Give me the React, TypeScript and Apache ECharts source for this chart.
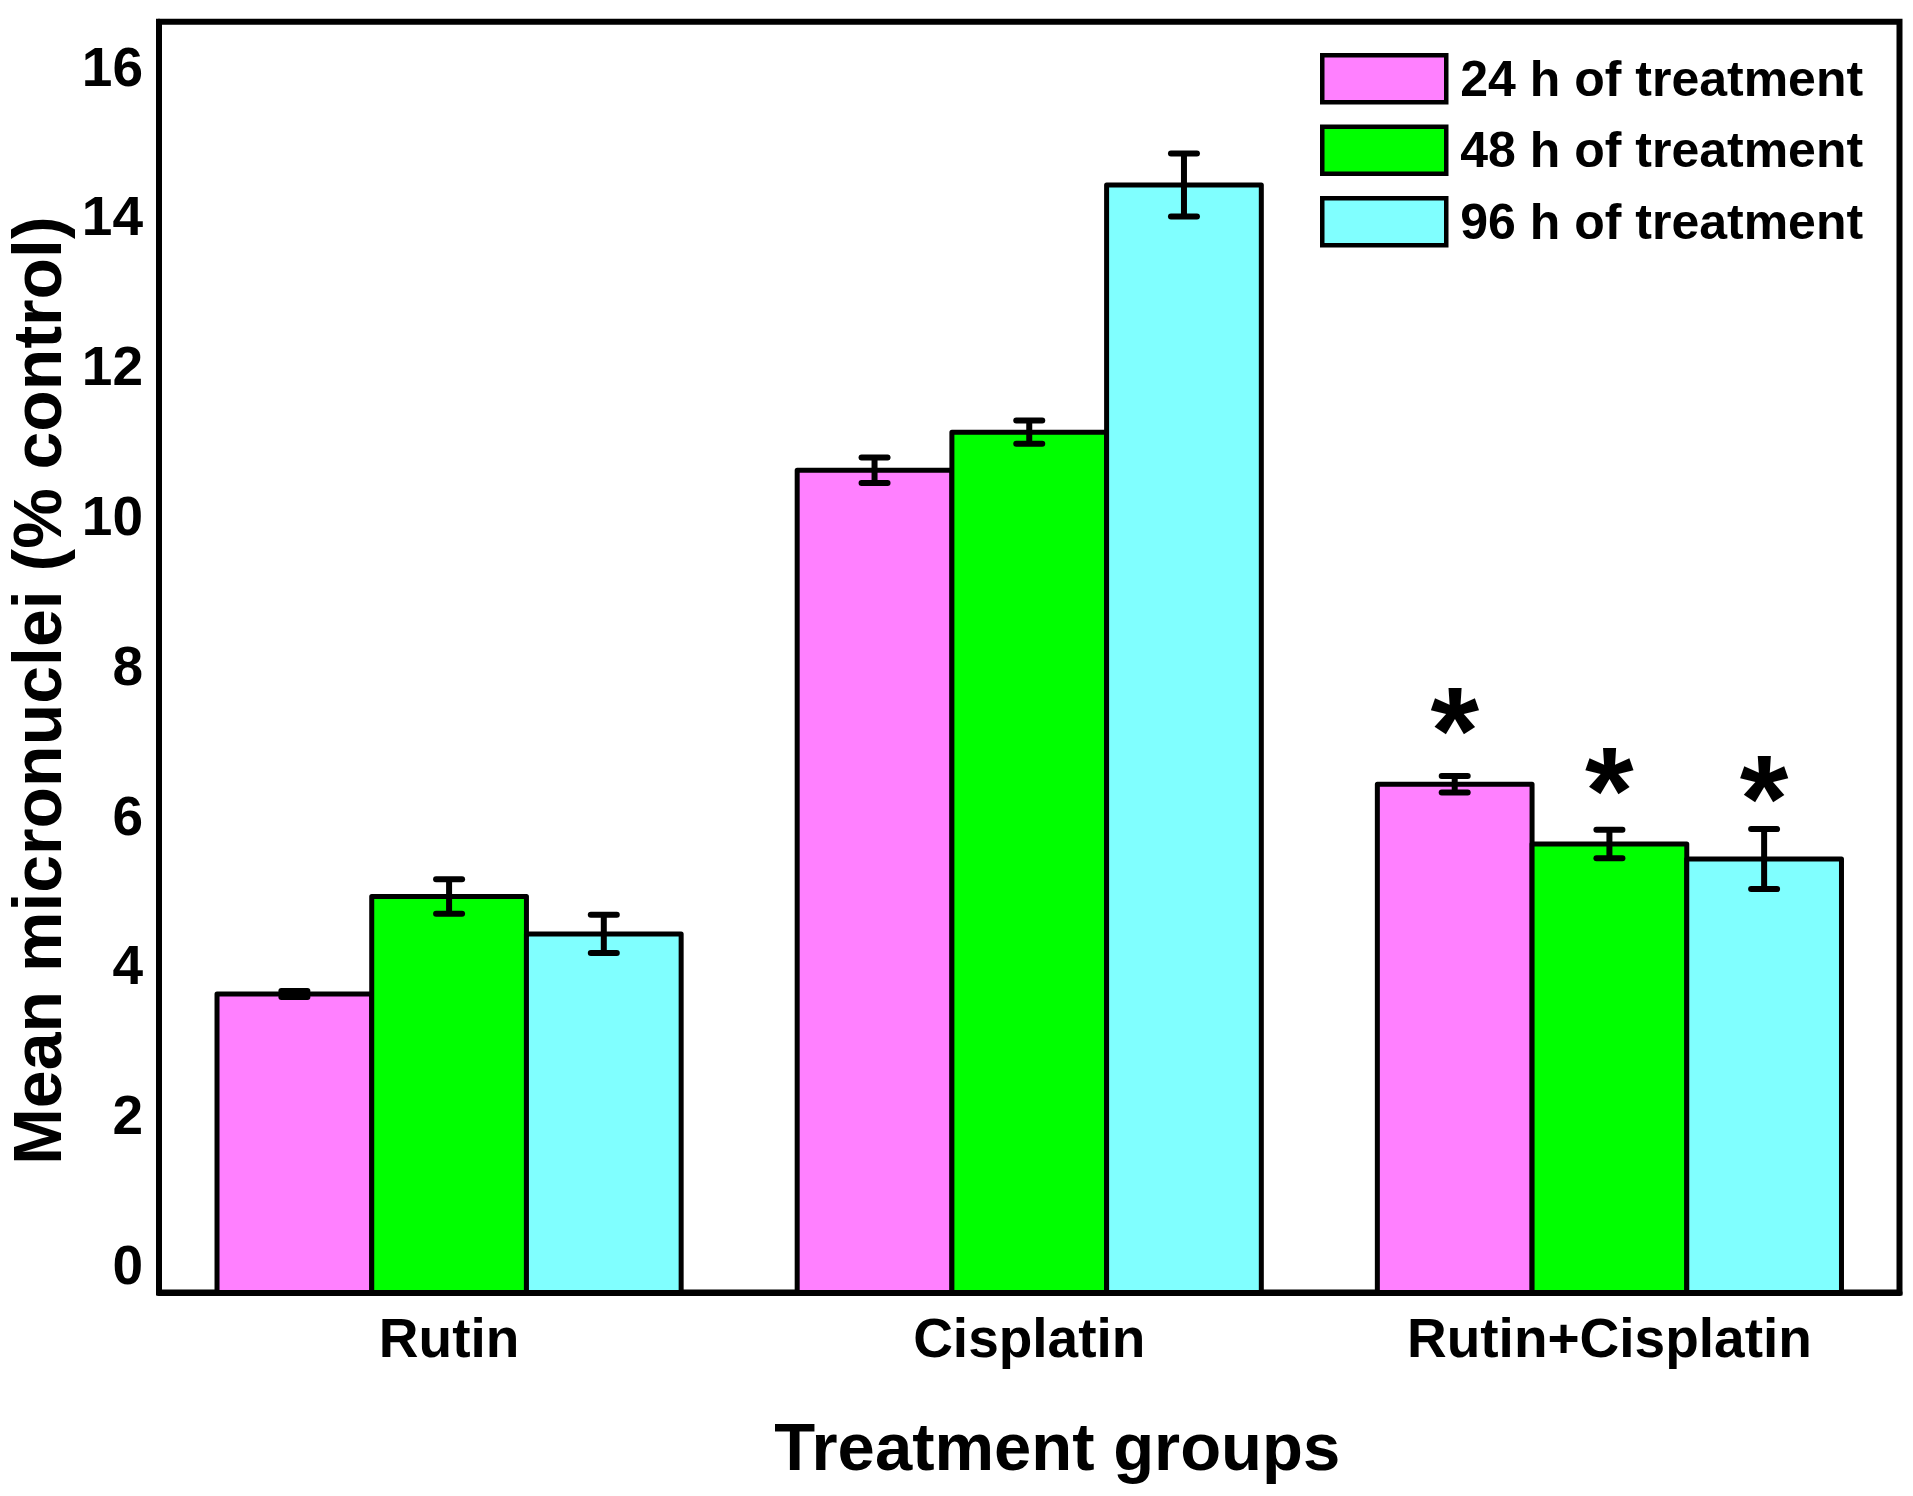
import React, { useEffect, useRef } from 'react';
import * as echarts from 'echarts';

const categories = ['Rutin', 'Cisplatin', 'Rutin+Cisplatin'];
const seriesNames = ['24 h of treatment', '48 h of treatment', '96 h of treatment'];
const mean24h = [3.62, 10.61, 6.42];
const mean48h = [4.92, 11.12, 5.62];
const mean96h = [4.42, 14.42, 5.42];
const err24h = [0.04, 0.17, 0.11];
const err48h = [0.23, 0.155, 0.19];
const err96h = [0.255, 0.42, 0.4];
// significance marker (*) levels, in axis units
const star24h: (number | null)[] = [null, null, 7.39];
const star48h: (number | null)[] = [null, null, 6.59];
const star96h: (number | null)[] = [null, null, 6.48];
const yAxisMin = -0.367;
const yAxisMax = 16.6;

const barColors = ['#FF80FF', '#00FF00', '#80FFFF'];
const FONT = '"Liberation Sans", Arial, Helvetica, sans-serif';
const STAR_SIZE = 125;

const means = [mean24h, mean48h, mean96h];
const errs = [err24h, err48h, err96h];
const stars = [star24h, star48h, star96h];

function makeRender(s: number, starLevels: (number | null)[]) {
  return (params: any, api: any) => {
    const ci = api.value(0);
    const v = api.value(1);
    const e = api.value(2);
    const band = api.size([1, 0])[0];
    const barW = (band * 0.8) / 3;
    const p = api.coord([ci, v]);
    const left = p[0] - band * 0.4 + s * barW;
    const top = p[1];
    const base = api.coord([ci, yAxisMin])[1];
    const mid = left + barW / 2;
    const hi = api.coord([ci, v + e])[1];
    const lo = api.coord([ci, v - e])[1];
    const capStyle = { stroke: '#000', lineWidth: 6, lineCap: 'round' };
    const children: any[] = [
      {
        type: 'rect',
        shape: { x: left, y: top, width: barW, height: base - top },
        style: { fill: barColors[s], stroke: '#000', lineWidth: 5, lineJoin: 'round' },
      },
      { type: 'line', shape: { x1: mid, y1: hi, x2: mid, y2: lo }, style: { stroke: '#000', lineWidth: 6 } },
      { type: 'line', shape: { x1: mid - 13, y1: hi, x2: mid + 13, y2: hi }, style: capStyle },
      { type: 'line', shape: { x1: mid - 13, y1: lo, x2: mid + 13, y2: lo }, style: capStyle },
    ];
    const st = starLevels[ci];
    if (st != null) {
      children.push({
        type: 'text',
        style: {
          text: '*',
          x: mid,
          y: api.coord([ci, st])[1] + 0.15 * STAR_SIZE,
          fill: '#000',
          fontSize: STAR_SIZE,
          fontWeight: 'bold',
          fontFamily: FONT,
          align: 'center',
          verticalAlign: 'middle',
        },
      });
    }
    return { type: 'group', children };
  };
}

export default function App() {
  const ref = useRef<HTMLDivElement>(null);
  useEffect(() => {
    document.body.style.margin = '0';
    if (!ref.current) return;
    const chart = echarts.init(ref.current, undefined, { renderer: 'svg' });
    const option: any = {
      animation: false,
      backgroundColor: '#ffffff',
      grid: {
        left: 159,
        right: 13.5,
        top: 21.7,
        bottom: 203.5,
        containLabel: false,
        outerBoundsMode: 'none',
        show: true,
        borderColor: '#000',
        borderWidth: 6,
        backgroundColor: 'transparent',
      },
      legend: {
        orient: 'vertical',
        left: 1320,
        top: 53,
        padding: 0,
        itemWidth: 124,
        itemHeight: 47,
        itemGap: 20,
        icon: 'rect',
        selectedMode: false,
        textStyle: {
          fontSize: 50,
          fontWeight: 'bold',
          fontFamily: FONT,
          color: '#000',
          lineHeight: 50,
          padding: [0, 0, 0, 9],
        },
        data: seriesNames.map((n, i) => ({
          name: n,
          itemStyle: { color: barColors[i], borderColor: '#000', borderWidth: 4.5 },
        })),
      },
      xAxis: {
        type: 'category',
        data: categories,
        z: 5,
        axisLine: { onZero: false, lineStyle: { color: '#000', width: 6 } },
        axisTick: { show: false },
        splitLine: { show: false },
        axisLabel: {
          fontSize: 55,
          fontWeight: 'bold',
          fontFamily: FONT,
          color: '#000',
          lineHeight: 55,
          margin: 18,
        },
        name: 'Treatment groups',
        nameLocation: 'middle',
        nameGap: 120,
        nameTextStyle: {
          fontSize: 67,
          fontWeight: 'bold',
          fontFamily: FONT,
          color: '#000',
          lineHeight: 67,
          padding: [0, 0, 0, 56],
        },
      },
      yAxis: {
        type: 'value',
        min: yAxisMin,
        max: yAxisMax,
        splitNumber: 8,
        z: 5,
        axisLine: { show: true, lineStyle: { color: '#000', width: 6 } },
        axisTick: { show: false },
        splitLine: { show: false },
        axisLabel: {
          fontSize: 55,
          fontWeight: 'bold',
          fontFamily: FONT,
          color: '#000',
          margin: 16,
          showMinLabel: false,
          showMaxLabel: false,
          formatter: (v: number) => (Math.abs(v % 2) < 1e-9 ? String(Math.abs(v)) : ''),
        },
        name: 'Mean micronuclei (% control)',
        nameLocation: 'middle',
        nameGap: 86,
        nameTextStyle: {
          fontSize: 68,
          fontWeight: 'bold',
          fontFamily: FONT,
          color: '#000',
          lineHeight: 54,
          padding: [0, 67, 0, 0],
        },
      },
      series: seriesNames.map((name, s) => ({
        type: 'custom',
        name,
        itemStyle: { color: barColors[s] },
        encode: { x: 0, y: 1 },
        renderItem: makeRender(s, stars[s]),
        data: categories.map((_, i) => [i, means[s][i], errs[s][i]]),
      })),
    };
    chart.setOption(option);
    return () => chart.dispose();
  }, []);
  return <div ref={ref} style={{ width: 1913, height: 1496 }} />;
}
